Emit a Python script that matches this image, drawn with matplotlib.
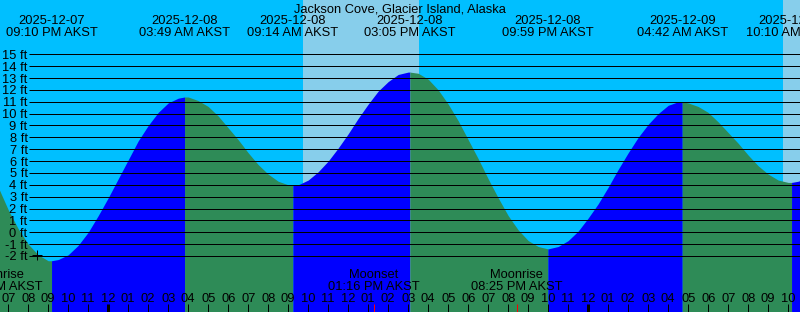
import numpy as np
import pandas as pd
import matplotlib
matplotlib.use('Agg')
import matplotlib.pyplot as plt
from matplotlib import transforms

plt.rcParams['font.family'] = ['Liberation Sans', 'DejaVu Sans']

# Station and colours (XTide style)
station = 'Jackson Cove, Glacier Island, Alaska'
night_color = '#00BFFF'
day_color = '#87CEEB'
flood_color = '#0000FF'
ebb_color = '#2E8B57'

# High / low tides as labelled at the top
extreme_stamps = ['2025-12-07 09:10 PM', '2025-12-08 03:49 AM', '2025-12-08 09:14 AM',
                  '2025-12-08 03:05 PM', '2025-12-08 09:59 PM', '2025-12-09 04:42 AM',
                  '2025-12-09 10:10 AM']
extreme_kind = ['low', 'high', 'low', 'high', 'low', 'high', 'low']

# Tide level (hours from midnight 2025-12-08, feet)
tide_hours = [-5.5, -5.0, -4.5, -4.0, -3.5, -3.0, -2.833, -2.5, -2.0, -1.5, -1.0, -0.5,
              0.0, 0.5, 1.0, 1.5, 2.0, 2.5, 3.0, 3.5, 3.817, 4.0, 4.5, 5.0, 5.5, 6.0,
              6.5, 7.0, 7.5, 8.0, 8.5, 9.0, 9.233, 9.5, 10.0, 10.5, 11.0, 11.5, 12.0,
              12.5, 13.0, 13.5, 14.0, 14.5, 15.0, 15.083, 15.5, 16.0, 16.5, 17.0, 17.5,
              18.0, 18.5, 19.0, 19.5, 20.0, 20.5, 21.0, 21.5, 21.983, 22.0, 22.5, 23.0,
              23.5, 24.0, 24.5, 25.0, 25.5, 26.0, 26.5, 27.0, 27.5, 28.0, 28.5, 28.7,
              29.0, 29.5, 30.0, 30.5, 31.0, 31.5, 32.0, 32.5, 33.0, 33.5, 34.0, 34.167,
              34.5, 35.0]
tide_ft = [3.8, 1.9, 0.3, -1.0, -1.9, -2.4, -2.4, -2.3, -1.9, -1.1, 0.0, 1.4,
           2.9, 4.5, 6.1, 7.7, 9.0, 10.1, 10.9, 11.3, 11.4, 11.4, 11.1, 10.6, 9.8, 8.8,
           7.8, 6.7, 5.7, 4.9, 4.3, 4.0, 4.0, 4.0, 4.4, 5.1, 6.0, 7.1, 8.3,
           9.6, 10.8, 11.9, 12.7, 13.3, 13.5, 13.5, 13.4, 12.9, 12.0, 10.8, 9.4,
           7.8, 6.2, 4.5, 2.9, 1.4, 0.2, -0.7, -1.2, -1.4, -1.4, -1.2, -0.7,
           0.1, 1.2, 2.4, 3.8, 5.3, 6.7, 8.0, 9.1, 10.0, 10.7, 11.0, 11.0,
           10.9, 10.6, 10.1, 9.3, 8.4, 7.5, 6.5, 5.6, 4.9, 4.4, 4.2, 4.2,
           4.3, 4.6]

# Sun and moon
day_spans = [('2025-12-08 09:43 AM', '2025-12-08 03:31 PM'),
             ('2025-12-09 09:44 AM', '2025-12-09 03:30 PM')]
moon_labels = ['Moonrise', 'Moonset', 'Moonrise']
moon_stamps = ['2025-12-07 06:27 PM', '2025-12-08 01:16 PM', '2025-12-08 08:25 PM']

# Current position marker
now_hour = -3.55
now_ft = -1.95

levels = list(range(-2, 16))

base = pd.Timestamp('2025-12-08 00:00')


def to_hours(stamp):
    t = pd.to_datetime(stamp, format='%Y-%m-%d %I:%M %p')
    return (t - base) / pd.Timedelta(hours=1)


t = np.array(tide_hours)
h = np.array(tide_ft)
ext_h = [to_hours(s) for s in extreme_stamps]

# 20 px per hour, midnight of 12-08 at x = 108 px
x0, x1 = -108.2 / 20, (800 - 108.2) / 20
y0, y1 = -6.72, 19.576

fig = plt.figure(figsize=(8, 3.12), dpi=100)
fig.patch.set_facecolor(night_color)
ax = fig.add_axes([0, 0, 1, 1])
ax.axis('off')
ax.set_xlim(x0, x1)
ax.set_ylim(y0, y1)

for a, b in day_spans:
    ax.axvspan(to_hours(a), to_hours(b), color=day_color, lw=0, antialiased=False)

# water, flood = blue, ebb = green
bounds = [x0 - 1] + ext_h + [x1 + 1]
for i in range(len(bounds) - 1):
    a, b = bounds[i], bounds[i + 1]
    if i == 0:
        rising = extreme_kind[0] == 'high'
    else:
        rising = extreme_kind[i - 1] == 'low'
    m = (t >= a - 0.01) & (t <= b + 0.01)
    ax.fill_between(t[m], h[m], y0 - 1, color=flood_color if rising else ebb_color,
                    lw=0, antialiased=False)

# depth lines
ax.hlines(levels, (29 - 108.2) / 20, x1, colors='black', lw=0.72, snap=True)
lab_tr = transforms.offset_copy(ax.transData, fig=fig, x=0, y=-4.5, units='dots')
for lv in levels:
    ax.text((27.5 - 108.2) / 20, lv, '%d ft' % lv, ha='right', va='baseline',
            fontsize=9.3, transform=lab_tr)

ax.plot([now_hour], [now_ft], marker='+', color='black', ms=6.5, mew=0.72)

# top labels
fy = lambda py: 1 - py / 312
top_tr = transforms.blended_transform_factory(ax.transData, fig.transFigure)
fig.text(0.5, fy(12), station, ha='center', va='baseline', fontsize=9.3)
for s, x in zip(extreme_stamps, ext_h):
    ts = pd.to_datetime(s, format='%Y-%m-%d %I:%M %p')
    ax.text(x, fy(24), ts.strftime('%Y-%m-%d'), ha='center', va='baseline',
            fontsize=9.3, transform=top_tr)
    ax.text(x, fy(35.7), ts.strftime('%I:%M %p') + ' AKST', ha='center',
            va='baseline', fontsize=9.3, transform=top_tr)

# moon labels and marks
for lab, s in zip(moon_labels, moon_stamps):
    x = to_hours(s)
    ts = pd.to_datetime(s, format='%Y-%m-%d %I:%M %p')
    ax.text(x, fy(278), lab, ha='center', va='baseline', fontsize=9.3, transform=top_tr)
    ax.text(x, fy(289.7), ts.strftime('%I:%M %p') + ' AKST', ha='center',
            va='baseline', fontsize=9.3, transform=top_tr)
    ax.vlines(x, 0, fy(304), colors='red', lw=0.72, transform=top_tr, snap=True)

# hour ticks
for hr in range(int(np.ceil(x0)), int(np.floor(x1)) + 1):
    clock = hr % 12
    clock = 12 if clock == 0 else clock
    ax.text(hr, fy(302.3), '%02d' % clock, ha='center', va='baseline',
            fontsize=9.3, transform=top_tr)
    ax.vlines(hr, 0, fy(304), colors='black', lw=2.16 if hr % 24 == 0 else 0.72,
              transform=top_tr, snap=True)

fig.savefig('out.png', dpi=100, facecolor=fig.get_facecolor())
